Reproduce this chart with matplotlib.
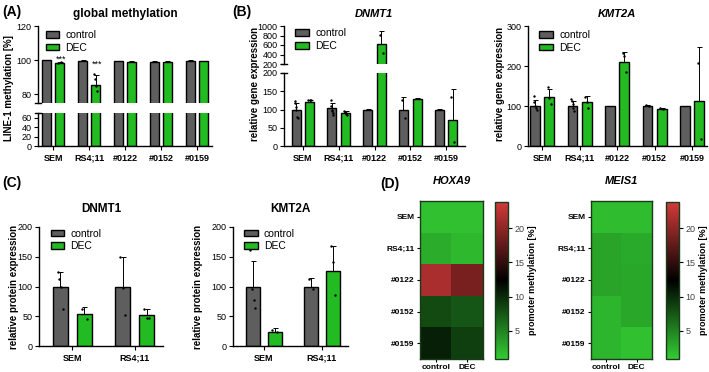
import numpy as np
import matplotlib.pyplot as plt
from matplotlib.colors import LinearSegmentedColormap
from matplotlib.patches import Patch

plt.rcParams['font.family'] = ['Liberation Sans', 'DejaVu Sans']
plt.rcParams['axes.linewidth'] = 1.0
plt.rcParams['xtick.major.size'] = 3
plt.rcParams['ytick.major.size'] = 3
plt.rcParams['xtick.major.pad'] = 2.5
plt.rcParams['ytick.major.pad'] = 1.5
plt.rcParams['xtick.labelsize'] = 6.5
plt.rcParams['ytick.labelsize'] = 6.5

GREY = '#5e5e5e'
GREEN = '#22bb22'

lines = ['SEM', 'RS4;11', '#0122', '#0152', '#0159']
conds = ['control', 'DEC']

# (A) LINE-1 methylation [%]
a_ctrl = [99.9, 99.7, 99.4, 99.1, 99.5]
a_dec = [98.4, 85.5, 99.2, 99.0, 99.4]
a_ctrl_err = [0.3, 0.3, 0.4, 0.5, 0.4]
a_dec_err = [0.6, 6.0, 0.4, 0.5, 0.4]
a_ctrl_pts = [[], [], [], [], []]
a_dec_pts = [[98.2, 98.8], [92, 89, 85, 82], [], [], []]
a_stars = ['***', '***', '', '', '']
a_star_y = [97.8, 95.0, 0, 0, 0]

# (B) DNMT1 relative gene expression
b1_ctrl = [100, 103, 100, 100, 100]
b1_dec = [120, 90, 620, 130, 72]
b1_ctrl_err = [18, 14, 1, 35, 1]
b1_dec_err = [7, 6, 270, 1, 85]
b1_ctrl_pts = [[122, 118, 108, 100, 80, 76], [125, 110, 100, 96, 90, 86], [], [125, 76], []]
b1_dec_pts = [[127, 127, 127], [96, 94, 91, 88, 85], [820, 430], [], [133, 12]]

# (B) KMT2A relative gene expression
b2_ctrl = [100, 99, 100, 101, 100]
b2_dec = [122, 109, 209, 93, 112]
b2_ctrl_err = [15, 14, 1, 1, 1]
b2_dec_err = [20, 15, 25, 1, 135]
b2_ctrl_pts = [[125, 110, 100, 95, 90], [117, 112, 105, 95, 88], [], [102, 101], []]
b2_dec_pts = [[148, 120, 105], [122, 110, 95], [232, 225, 185], [95, 93], [208, 17]]

# (C) relative protein expression
prot_lines = ['SEM', 'RS4;11']
c1_ctrl = [100, 100]
c1_dec = [53, 52]
c1_ctrl_err = [25, 50]
c1_dec_err = [13, 11]
c1_ctrl_pts = [[125, 113, 100, 63], [150, 97, 52]]
c1_dec_pts = [[62, 45], [63, 47, 47]]

c2_ctrl = [100, 100]
c2_dec = [24, 126]
c2_ctrl_err = [43, 14]
c2_dec_err = [7, 42]
c2_ctrl_pts = [[162, 96, 78, 64], [113, 96]]
c2_dec_pts = [[27, 23], [168, 142, 86]]

# (D) promoter methylation [%] (rows: lines, cols: control, DEC)
hoxa9 = [[1.6, 1.6], [2.6, 2.0], [21.5, 18.8], [8.2, 7.6], [10.6, 8.8]]
meis1 = [[1.8, 1.8], [3.2, 2.8], [3.2, 3.0], [2.2, 3.0], [2.2, 1.6]]

W, H = 709, 372
fig = plt.figure(figsize=(7.09, 3.72), dpi=100)


def box(x0, x1, y0, y1):
    return [x0 / W, 1 - y1 / H, (x1 - x0) / W, (y1 - y0) / H]


def style(ax, bottom=True):
    ax.spines['top'].set_visible(False)
    ax.spines['right'].set_visible(False)
    if not bottom:
        ax.spines['bottom'].set_visible(False)
        ax.tick_params(axis='x', bottom=False, labelbottom=False)


def bars(ax, ctrl, dec, ctrl_err, dec_err, ctrl_pts, dec_pts, off=0.19, width=0.26):
    x = np.arange(len(ctrl))
    for xs, vals, err, pts, col in [(x - off, ctrl, ctrl_err, ctrl_pts, GREY),
                                    (x + off, dec, dec_err, dec_pts, GREEN)]:
        ax.bar(xs, vals, width, color=col, edgecolor='black', linewidth=1.0, zorder=2)
        ax.errorbar(xs, vals, yerr=[np.zeros(len(vals)), err], fmt='none',
                    ecolor='black', elinewidth=0.7, capsize=1.8, capthick=0.7, zorder=3)
        for xi, p in zip(xs, pts):
            if p:
                jit = np.linspace(-0.04, 0.04, len(p)) if len(p) > 1 else [0]
                ax.scatter(xi + np.asarray(jit), p, s=3, color='black', zorder=4, linewidths=0)
    return x


def legend(ax, loc):
    handles = [Patch(facecolor=GREY, edgecolor='black', label='control'),
               Patch(facecolor=GREEN, edgecolor='black', label='DEC')]
    ax.legend(handles=handles, loc='upper left', bbox_to_anchor=loc, frameon=False,
              fontsize=7.5, handlelength=1.3, handleheight=0.6, labelspacing=0.25,
              borderaxespad=0.0, handletextpad=0.6)


def break_marks(ax_top, ax_bot):
    ax_top.plot([-0.018, 0.018], [0, 0], transform=ax_top.transAxes, color='black',
                lw=1.0, clip_on=False)
    ax_bot.plot([-0.018, 0.018], [1, 1], transform=ax_bot.transAxes, color='black',
                lw=1.0, clip_on=False)


def cat_ticks(ax, x, labels):
    ax.set_xticks(x)
    ax.set_xticklabels(labels, fontweight='bold')


def ylab(x, y, s):
    fig.text(x / W, 1 - y / H, s, rotation=90, ha='center', va='center',
             fontsize=7, fontweight='bold')


# ---------- (A) ----------
axA_t = fig.add_axes(box(38, 212, 26, 103))
axA_b = fig.add_axes(box(38, 212, 113, 146))
for ax in (axA_t, axA_b):
    x = bars(ax, a_ctrl, a_dec, a_ctrl_err, a_dec_err, a_ctrl_pts, a_dec_pts, off=0.18, width=0.27)
    ax.set_xlim(-0.42, 4.42)
axA_t.set_ylim(75, 120)
axA_t.set_yticks([80, 100, 120])
style(axA_t, bottom=False)
axA_b.set_ylim(0, 70)
axA_b.set_yticks([0, 20, 40, 60])
style(axA_b)
cat_ticks(axA_b, x, lines)
break_marks(axA_t, axA_b)
for i, (s, sy) in enumerate(zip(a_stars, a_star_y)):
    if s:
        axA_t.text(i + 0.18 + 0.04, sy, s, ha='center', va='bottom', fontsize=6.5, zorder=5)
legend(axA_t, (0.02, 1.0))
ylab(9, 88, 'LINE-1 methylation [%]')

# ---------- (B) DNMT1 ----------
axB_t = fig.add_axes(box(284, 465, 26, 64))
axB_b = fig.add_axes(box(284, 465, 73, 146))
for ax in (axB_t, axB_b):
    x = bars(ax, b1_ctrl, b1_dec, b1_ctrl_err, b1_dec_err, b1_ctrl_pts, b1_dec_pts, off=0.19, width=0.25)
    ax.set_xlim(-0.53, 4.53)
axB_t.set_ylim(200, 1000)
axB_t.set_yticks([200, 400, 600, 800, 1000])
style(axB_t, bottom=False)
axB_b.set_ylim(0, 200)
axB_b.set_yticks([0, 50, 100, 150, 200])
style(axB_b)
cat_ticks(axB_b, x, lines)
break_marks(axB_t, axB_b)
legend(axB_t, (0.04, 1.05))
ylab(255, 84, 'relative gene expression')

# ---------- (B) KMT2A ----------
axK = fig.add_axes(box(528, 707, 26, 146))
x = bars(axK, b2_ctrl, b2_dec, b2_ctrl_err, b2_dec_err, b2_ctrl_pts, b2_dec_pts, off=0.19, width=0.26)
axK.set_xlim(-0.38, 4.4)
axK.set_ylim(0, 300)
axK.set_yticks([0, 100, 200, 300])
style(axK)
cat_ticks(axK, x, lines)
legend(axK, (0.04, 1.0))
ylab(500, 84, 'relative gene expression')

# ---------- (C) ----------
for (x0, x1, lx, title, c, d, ce, de, cp, dp) in [
        (39, 163, 14, 'DNMT1', c1_ctrl, c1_dec, c1_ctrl_err, c1_dec_err, c1_ctrl_pts, c1_dec_pts),
        (233, 348, 198, 'KMT2A', c2_ctrl, c2_dec, c2_ctrl_err, c2_dec_err, c2_ctrl_pts, c2_dec_pts)]:
    ax = fig.add_axes(box(x0, x1, 227, 346))
    x = bars(ax, c, d, ce, de, cp, dp, off=0.19, width=0.24)
    ax.set_xlim(-0.53, 1.45)
    ax.set_ylim(0, 200)
    ax.set_yticks([0, 50, 100, 150, 200])
    style(ax)
    cat_ticks(ax, x, prot_lines)
    legend(ax, (0.06, 1.02))
    ax.set_title(title, fontsize=8.5, fontweight='bold', pad=11)
    ylab(lx, 287, 'relative protein expression')

# ---------- (D) ----------
cmap = LinearSegmentedColormap.from_list('gbr', ['#33cc33', '#000000', '#d43a3a'])
for (x0, x1, cx0, cx1, title, data) in [(420, 483, 495, 508, 'HOXA9', hoxa9),
                                        (591, 652, 666, 679, 'MEIS1', meis1)]:
    ax = fig.add_axes(box(x0, x1, 201, 359))
    im = ax.imshow(np.array(data), cmap=cmap, vmin=0.9, vmax=23.8, aspect='auto')
    ax.set_xticks(range(len(conds)))
    ax.set_xticklabels(conds, fontweight='bold', fontsize=6)
    ax.set_yticks(range(len(lines)))
    ax.set_yticklabels(lines, fontweight='bold', fontsize=6)
    ax.tick_params(axis='x', length=2.5, pad=1)
    ax.tick_params(axis='y', length=2.5, pad=1.5)
    for s in ax.spines.values():
        s.set_color('#1a3a1a')
    ax.set_title(title, fontsize=8, fontweight='bold', fontstyle='italic', pad=12)
    cax = fig.add_axes(box(cx0, cx1, 202, 359))
    cb = fig.colorbar(im, cax=cax, ticks=[5, 10, 15, 20])
    cb.outline.set_edgecolor('#1a3a1a')
    cax.tick_params(labelsize=6.5, labelcolor='#444444', length=3, pad=1.5)
    cb.set_label('promoter methylation [%]', fontsize=6.5, fontweight='bold', labelpad=3)

# panel titles and letters
fig.text(125 / W, 1 - 14 / H, 'global methylation', ha='center', va='center', fontsize=8.5,
         fontweight='bold')
fig.text(374 / W, 1 - 14 / H, 'DNMT1', ha='center', va='center', fontsize=8,
         fontweight='bold', fontstyle='italic')
fig.text(617 / W, 1 - 14 / H, 'KMT2A', ha='center', va='center', fontsize=8,
         fontweight='bold', fontstyle='italic')
for lab, lx, ly in [('(A)', 2, 12), ('(B)', 232, 12), ('(C)', 2, 183), ('(D)', 380, 184)]:
    fig.text(lx / W, 1 - ly / H, lab, ha='left', va='center', fontsize=10, fontweight='bold')

fig.savefig('out.png', dpi=100)
